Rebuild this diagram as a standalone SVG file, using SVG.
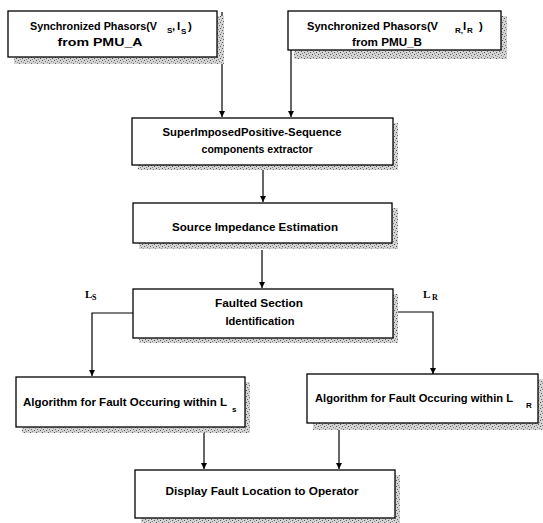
<svg xmlns="http://www.w3.org/2000/svg" width="543" height="523" viewBox="0 0 543 523">
<defs>
<pattern id="spk" width="6" height="6" patternUnits="userSpaceOnUse">
<rect width="6" height="6" fill="#d4d4d4"/>
<rect x="0" y="0" width="1" height="1" fill="#555"/>
<rect x="3" y="1" width="1" height="1" fill="#777"/>
<rect x="1" y="3" width="1" height="1" fill="#666"/>
<rect x="4" y="4" width="1" height="1" fill="#555"/>
<rect x="2" y="5" width="1" height="1" fill="#888"/>
<rect x="5" y="2" width="1" height="1" fill="#999"/>
</pattern>
<marker id="arr" viewBox="0 0 10 10" refX="10" refY="5" markerWidth="6" markerHeight="7" markerUnits="userSpaceOnUse" orient="auto">
<path d="M0,0 L10,5 L0,10 Z" fill="#000"/>
</marker>
</defs>
<style>
.box{fill:#fff;stroke:#000;stroke-width:1.3}
.sh{fill:url(#spk)}
.t{font-family:"Liberation Sans",Arial,sans-serif;font-weight:bold;font-size:11.5px;fill:#000}
.sub{font-family:"Liberation Sans",Arial,sans-serif;font-weight:bold;font-size:8px;fill:#000}
.lbl{font-family:"Liberation Serif","Times New Roman",serif;font-weight:bold;font-size:11px;fill:#000}
.lsub{font-family:"Liberation Serif","Times New Roman",serif;font-weight:bold;font-size:8px;fill:#000}
.c{fill:none;stroke:#000;stroke-width:1.2}
</style>
<rect width="543" height="523" fill="#fff"/>

<g id="connectors">
<line class="c" x1="222" y1="12" x2="222" y2="117" marker-end="url(#arr)"/>
<line class="c" x1="291" y1="31" x2="306" y2="31"/>
<line class="c" x1="291" y1="31" x2="291" y2="117" marker-end="url(#arr)"/>
<line class="c" x1="263" y1="168" x2="263" y2="202" marker-end="url(#arr)"/>
<line class="c" x1="262" y1="250" x2="262" y2="288" marker-end="url(#arr)"/>
<polyline class="c" points="133,313 92,313 92,376" marker-end="url(#arr)"/>
<polyline class="c" points="398,312 433,312 433,374" marker-end="url(#arr)"/>
<line class="c" x1="204" y1="433" x2="204" y2="469" marker-end="url(#arr)"/>
<line class="c" x1="339" y1="430" x2="339" y2="469" marker-end="url(#arr)"/>
</g>

<g id="pmu_a">
<rect class="sh" x="14" y="57" width="210" height="7"/>
<rect class="sh" x="217" y="16" width="7" height="48"/>
<rect class="box" x="8" y="11" width="209" height="46"/>
<text class="t" x="30" y="30" textLength="127" lengthAdjust="spacingAndGlyphs">Synchronized Phasors(V</text>
<text class="sub" x="167" y="33">S</text>
<text class="t" x="172" y="30">,</text>
<text class="t" x="177" y="30">I</text>
<text class="sub" x="181" y="34">S</text>
<text class="t" x="188" y="30">)</text>
<text class="t" x="100" y="46" text-anchor="middle" textLength="85" lengthAdjust="spacingAndGlyphs">from PMU_A</text>
</g>

<g id="pmu_b">
<rect class="sh" x="294" y="50" width="213" height="9"/>
<rect class="sh" x="501" y="16" width="6" height="43"/>
<rect class="box" x="288" y="11" width="213" height="39"/>
<text class="t" x="307" y="30" textLength="131" lengthAdjust="spacingAndGlyphs">Synchronized  Phasors(V</text>
<text class="sub" x="455" y="33">R,</text>
<text class="t" x="463" y="30">I</text>
<text class="sub" x="467" y="33">R</text>
<text class="t" x="479" y="30">)</text>
<text class="t" x="387" y="46" text-anchor="middle" textLength="70" lengthAdjust="spacingAndGlyphs">from PMU_B</text>
</g>

<g id="extractor">
<rect class="sh" x="138" y="165" width="259" height="5"/>
<rect class="sh" x="393" y="123" width="5" height="47"/>
<rect class="box" x="132" y="118" width="261" height="47"/>
<text class="t" x="252" y="136" text-anchor="middle" textLength="179" lengthAdjust="spacingAndGlyphs">SuperImposedPositive-Sequence</text>
<text class="t" x="257" y="153" text-anchor="middle" textLength="111" lengthAdjust="spacingAndGlyphs">components extractor</text>
</g>

<g id="source">
<rect class="sh" x="139" y="243" width="259" height="6"/>
<rect class="sh" x="392" y="208" width="6" height="41"/>
<rect class="box" x="133" y="203" width="259" height="40"/>
<text class="t" x="255" y="231" text-anchor="middle" textLength="166" lengthAdjust="spacingAndGlyphs">Source Impedance Estimation</text>
</g>

<g id="faulted">
<rect class="sh" x="139" y="338" width="259" height="5"/>
<rect class="sh" x="393" y="294" width="5" height="49"/>
<rect class="box" x="133" y="289" width="260" height="49"/>
<text class="t" x="259" y="307" text-anchor="middle" textLength="88" lengthAdjust="spacingAndGlyphs">Faulted Section</text>
<text class="t" x="260" y="325" text-anchor="middle" textLength="69" lengthAdjust="spacingAndGlyphs">Identification</text>
</g>

<g id="label_ls">
<text class="lbl" x="85" y="298">L</text>
<text class="lsub" x="92" y="300">S</text>
</g>
<g id="label_lr">
<text class="lbl" x="423" y="298">L</text>
<text class="lsub" x="432" y="300">R</text>
</g>

<g id="algo_ls">
<rect class="sh" x="22" y="427" width="228" height="6"/>
<rect class="sh" x="245" y="382" width="5" height="51"/>
<rect class="box" x="16" y="377" width="229" height="50"/>
<text class="t" x="23" y="406" textLength="204" lengthAdjust="spacingAndGlyphs">Algorithm for Fault Occuring within L</text>
<text class="sub" x="232" y="412">s</text>
</g>

<g id="algo_lr">
<rect class="sh" x="313" y="423" width="230" height="7"/>
<rect class="sh" x="537" y="379" width="6" height="51"/>
<rect class="box" x="307" y="374" width="231" height="49"/>
<text class="t" x="315" y="402" textLength="198" lengthAdjust="spacingAndGlyphs">Algorithm for Fault Occuring within L</text>
<text class="sub" x="526" y="408">R</text>
</g>

<g id="display">
<rect class="sh" x="141" y="518" width="259" height="5"/>
<rect class="sh" x="395" y="475" width="5" height="48"/>
<rect class="box" x="135" y="470" width="260" height="48"/>
<text class="t" x="262" y="495" text-anchor="middle" font-size="10.5px" textLength="193" lengthAdjust="spacingAndGlyphs" style="font-size:10.5px">Display Fault Location to Operator</text>
</g>
</svg>
